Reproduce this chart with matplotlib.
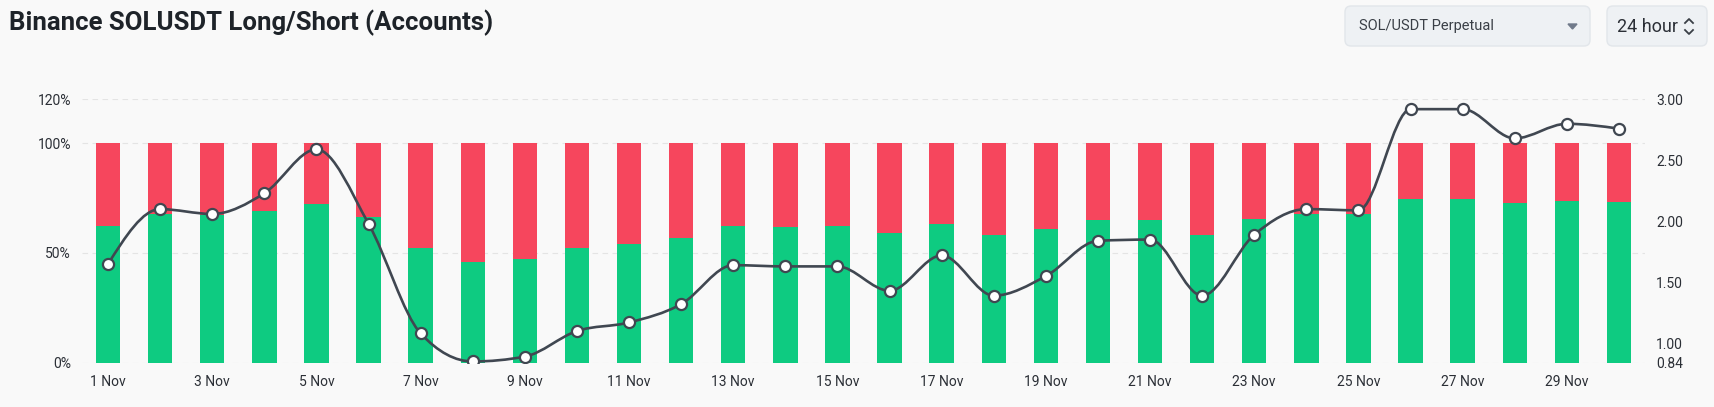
import numpy as np
import matplotlib.pyplot as plt
from matplotlib.path import Path
from matplotlib.patches import PathPatch, FancyBboxPatch, Polygon

plt.rcParams['font.family'] = ['Roboto', 'DejaVu Sans']

days = [f'{d} Nov' for d in range(1, 31)]
long_pct = [62.3, 67.6, 67.3, 69.0, 72.2, 66.5, 52.1, 45.9, 47.1, 52.4,
            54.0, 57.0, 62.2, 62.0, 62.2, 59.0, 63.2, 58.1, 60.8, 64.9,
            64.9, 58.1, 65.4, 67.8, 67.6, 74.5, 74.5, 72.8, 73.6, 73.4]
short_pct = [37.7, 32.4, 32.7, 31.0, 27.8, 33.5, 47.9, 54.1, 52.9, 47.6,
             46.0, 43.0, 37.8, 38.0, 37.8, 41.0, 36.8, 41.9, 39.2, 35.1,
             35.1, 41.9, 34.6, 32.2, 32.4, 25.5, 25.5, 27.2, 26.4, 26.6]
ratio = [1.65, 2.10, 2.06, 2.23, 2.59, 1.98, 1.08, 0.85, 0.89, 1.10,
         1.17, 1.32, 1.64, 1.63, 1.63, 1.43, 1.72, 1.39, 1.55, 1.84,
         1.85, 1.39, 1.89, 2.10, 2.09, 2.92, 2.92, 2.68, 2.80, 2.76]
left_ticks = [0, 50, 100, 120]
right_ticks = [0.84, 1.00, 1.50, 2.00, 2.50, 3.00]

GREEN = '#0ecb81'
RED = '#f6465d'
LINE = '#404751'
BG = '#f9f9f9'
TXT = '#2b2f36'


def monotone_path(x, y):
    # cubic bezier path with monotone-x tangents (no overshoot)
    x = np.asarray(x, float)
    y = np.asarray(y, float)
    h = np.diff(x)
    s = np.diff(y) / h
    t = np.zeros_like(y)
    for i in range(1, len(y) - 1):
        if s[i - 1] * s[i] > 0:
            p = (s[i - 1] * h[i] + s[i] * h[i - 1]) / (h[i - 1] + h[i])
            t[i] = np.sign(s[i - 1]) * min(2 * abs(s[i - 1]), 2 * abs(s[i]), abs(p))
    t[0] = (3 * s[0] - t[1]) / 2
    t[-1] = (3 * s[-1] - t[-2]) / 2
    verts = [(x[0], y[0])]
    codes = [Path.MOVETO]
    for i in range(len(h)):
        d = h[i] / 3
        verts += [(x[i] + d, y[i] + d * t[i]), (x[i + 1] - d, y[i + 1] - d * t[i + 1]), (x[i + 1], y[i + 1])]
        codes += [Path.CURVE4] * 3
    return Path(verts, codes)


fig = plt.figure(figsize=(17.15, 4.07), dpi=100, facecolor=BG)
ax1 = fig.add_axes([82 / 1715, 44.3 / 407, (1645 - 82) / 1715, (362.7 - 99.4) / 407])
ax1.set_facecolor(BG)
x = np.arange(len(days))
ax1.bar(x, long_pct, width=0.47, color=GREEN, zorder=2)
ax1.bar(x, short_pct, bottom=long_pct, width=0.47, color=RED, zorder=2)
ax1.set_xlim(-0.5, len(days) - 0.5)
ax1.set_ylim(0, 120)
ax1.set_yticks(left_ticks)
ax1.set_yticklabels([f'{v}%' for v in left_ticks])
ax1.set_xticks(x[::2])
ax1.set_xticklabels(days[::2])
ax1.grid(axis='y', color='#e4e4e4', linestyle=(0, (5, 4)), linewidth=0.8)
ax1.set_axisbelow(True)
ax1.tick_params(axis='y', length=0, pad=8, labelsize=10, labelcolor=TXT)
ax1.tick_params(axis='x', length=0, pad=9, labelsize=10, labelcolor=TXT)
for sp in ax1.spines.values():
    sp.set_visible(False)

ax2 = ax1.twinx()
ax2.set_ylim(0.84, 3.00)
ax2.set_yticks(right_ticks)
ax2.set_yticklabels([f'{v:.2f}' for v in right_ticks])
ax2.tick_params(axis='y', length=0, pad=8, labelsize=10, labelcolor=TXT)
for sp in ax2.spines.values():
    sp.set_visible(False)
ax2.add_patch(PathPatch(monotone_path(x, ratio), facecolor='none', edgecolor=LINE, lw=1.9, zorder=3))
ax2.plot(x, ratio, 'o', ms=8, mfc='white', mec=LINE, mew=1.6, zorder=4)

# header: title and the two selectors
ui = fig.add_axes([0, 0, 1, 1], zorder=-1)
ui.set_xlim(0, 1715)
ui.set_ylim(407, 0)
ui.axis('off')
ui.text(9, 30, 'Binance SOLUSDT Long/Short (Accounts)', fontsize=18.5, fontweight='bold',
        color='#1e2329', ha='left', va='baseline', family=['Roboto', 'DejaVu Sans'])
ui.add_patch(FancyBboxPatch((1345, 6), 245, 40, boxstyle='round,pad=0,rounding_size=6',
                            facecolor='#eef1f4', edgecolor='#e2e6ea', lw=1))
ui.text(1359, 26, 'SOL/USDT Perpetual', fontsize=10.5, color='#3a3f46', va='center', ha='left')
ui.add_patch(Polygon([(1568, 24), (1577, 24), (1572.5, 29)], closed=True, color='#707a8a'))
ui.add_patch(FancyBboxPatch((1607, 6), 100, 40, boxstyle='round,pad=0,rounding_size=6',
                            facecolor='#eef1f4', edgecolor='#e2e6ea', lw=1))
ui.text(1617, 27, '24 hour', fontsize=13, color='#2b2f36', va='center', ha='left')
ui.plot([1685, 1689, 1693], [23, 19, 23], color='#3a3f46', lw=1.3)
ui.plot([1685, 1689, 1693], [30, 34, 30], color='#3a3f46', lw=1.3)

fig.savefig('out.png', dpi=100, facecolor=BG)
